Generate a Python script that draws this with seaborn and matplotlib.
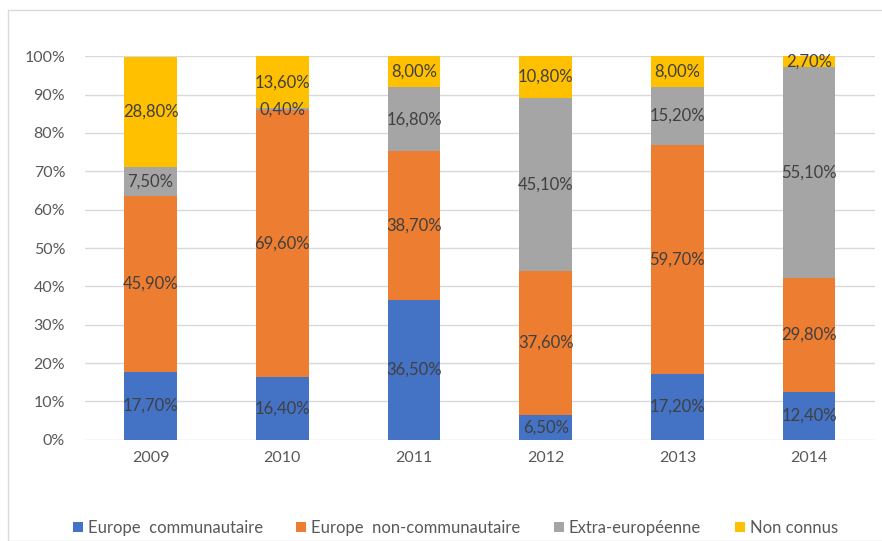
import matplotlib
matplotlib.use("Agg")
import matplotlib.pyplot as plt
import seaborn as sns
import numpy as np
import pandas as pd
from matplotlib.patches import Rectangle

# data (percent)
years = ["2009", "2010", "2011", "2012", "2013", "2014"]
series = ["Europe  communautaire", "Europe  non-communautaire", "Extra-européenne", "Non connus"]
europe_comm = [17.7, 16.4, 36.5, 6.5, 17.2, 12.4]
europe_non_comm = [45.9, 69.6, 38.7, 37.6, 59.7, 29.8]
extra_euro = [7.5, 0.4, 16.8, 45.1, 15.2, 55.1]
non_connus = [28.8, 13.6, 8.0, 10.8, 8.0, 2.7]
colors = ["#4472C4", "#ED7D31", "#A5A5A5", "#FFC000"]

sns.set_theme(style="white")
plt.rcParams["font.family"] = ["Lato", "DejaVu Sans"]

fig = plt.figure(figsize=(8.82, 5.41), dpi=100)
ax = fig.add_axes([0.096, 0.187, 0.896, 0.709])

# light frame around the chart
fig.patches.append(Rectangle((8 / 882, 0.0), 1.0, 1 - 10 / 541, transform=fig.transFigure,
                             fill=False, edgecolor="#d9d9d9", linewidth=1))

bottom = np.zeros(len(years))
for name, vals, col in zip(series, [europe_comm, europe_non_comm, extra_euro, non_connus], colors):
    vals = np.array(vals)
    sns.barplot(x=years, y=vals, bottom=bottom, color=col, width=0.4, ax=ax,
                label=name, saturation=1, linewidth=0)
    for i, v in enumerate(vals):
        ax.text(i, bottom[i] + v / 2, f"{v:.2f}".replace(".", ",") + "%",
                ha="center", va="center", fontsize=12, color="#404040")
    bottom += vals

ax.set_ylim(0, 100)
ax.set_xlim(-0.5, 5.5)
ax.set_yticks(np.arange(0, 101, 10))
ax.set_yticklabels([f"{t}%" for t in range(0, 101, 10)])
ax.yaxis.grid(True, color="#d9d9d9", linewidth=1)
ax.set_axisbelow(True)
for s in ax.spines.values():
    s.set_visible(False)
ax.tick_params(axis="both", length=0, labelsize=11.5, labelcolor="#595959")
ax.tick_params(axis="y", pad=14)
ax.tick_params(axis="x", pad=8)
ax.set_xlabel("")
ax.set_ylabel("")

ax.legend(loc="upper center", bbox_to_anchor=(0.469, -0.17), ncol=4, frameon=False,
          fontsize=12, handlelength=0.6, handleheight=0.6, handletextpad=0.3,
          columnspacing=2.0, labelcolor="#595959")

fig.savefig("out.png", dpi=100)
